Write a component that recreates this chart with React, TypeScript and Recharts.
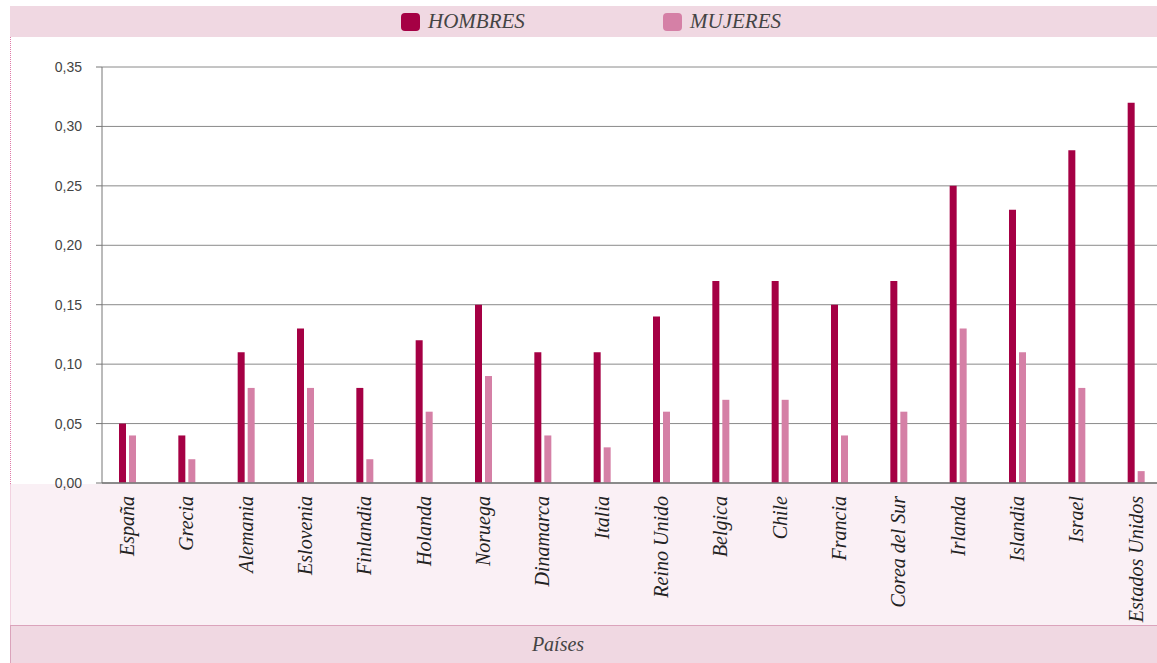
import React from 'react';
import { BarChart, Bar, XAxis, YAxis, CartesianGrid, Legend } from 'recharts';

// values
const paises = [
  'España', 'Grecia', 'Alemania', 'Eslovenia', 'Finlandia', 'Holanda', 'Noruega', 'Dinamarca', 'Italia',
  'Reino Unido', 'Belgica', 'Chile', 'Francia', 'Corea del Sur', 'Irlanda', 'Islandia', 'Israel', 'Estados Unidos',
];
const hombres = [0.05, 0.04, 0.11, 0.13, 0.08, 0.12, 0.15, 0.11, 0.11, 0.14, 0.17, 0.17, 0.15, 0.17, 0.25, 0.23, 0.28, 0.32];
const mujeres = [0.04, 0.02, 0.08, 0.08, 0.02, 0.06, 0.09, 0.04, 0.03, 0.06, 0.07, 0.07, 0.04, 0.06, 0.13, 0.11, 0.08, 0.01];
const yTicks = [0, 0.05, 0.1, 0.15, 0.2, 0.25, 0.3, 0.35];

const DARK = '#a50044';
const PINK = '#d580a6';
const BAND = '#f0d8e2';
const SERIF = '"Liberation Serif", "Times New Roman", serif';
const SANS = '"Liberation Sans", Arial, sans-serif';

const chartData = paises.map((pais, i) => ({
  pais,
  hombres: hombres[i],
  mujeres: mujeres[i],
}));

const CountryTick = (props: any) => {
  const { x, y, payload } = props;
  return (
    <g transform={`translate(${x},${y})`}>
      <text
        transform="rotate(-90)"
        x={-5}
        y={0}
        dy="0.32em"
        textAnchor="end"
        fontFamily={SERIF}
        fontStyle="italic"
        fontSize={20}
        fill="#222"
      >
        {payload.value}
      </text>
    </g>
  );
};

const LegendBand = () => (
  <div style={{ position: 'relative', width: 1147, height: 31, background: BAND }}>
    {[
      { name: 'HOMBRES', color: DARK, left: 391 },
      { name: 'MUJERES', color: PINK, left: 653 },
    ].map((item) => (
      <div key={item.name} style={{ position: 'absolute', left: item.left, top: 0, height: 31, display: 'flex', alignItems: 'center' }}>
        <span style={{ width: 19, height: 18, borderRadius: 4, background: item.color, display: 'inline-block', marginRight: 8 }} />
        <span style={{ fontFamily: SERIF, fontStyle: 'italic', fontSize: 21, color: '#444' }}>{item.name}</span>
      </div>
    ))}
  </div>
);

export default function App() {
  return (
    <div style={{ position: 'fixed', top: 0, left: 0, width: 1157, height: 663, overflow: 'hidden', background: '#fff' }}>
      {/* dotted left edge of the plot panel */}
      <div style={{ position: 'absolute', left: 10, top: 37, height: 447, borderLeft: '1px dotted #e07aa8' }} />
      {/* light panel under the axis */}
      <div style={{ position: 'absolute', left: 10, top: 484, width: 1147, height: 141, background: '#faf0f5', borderLeft: '1px solid #f2d2e0', boxSizing: 'border-box' }} />
      {/* axis title band */}
      <div
        style={{
          position: 'absolute', left: 10, top: 625, width: 1147, height: 38, background: BAND,
          borderTop: '1px solid #dba3bb', borderLeft: '1px solid #dba3bb', boxSizing: 'border-box',
        }}
      />
      <div style={{ position: 'absolute', left: 458, width: 200, top: 633, textAlign: 'center', fontFamily: SERIF, fontStyle: 'italic', fontSize: 20, color: '#444' }}>
        Países
      </div>

      <div style={{ position: 'absolute', top: 0, left: 0, zIndex: 1 }}>
        <BarChart
          width={1166}
          height={663}
          data={chartData}
          margin={{ top: 67, right: 0, bottom: 40, left: 0 }}
          barSize={7}
          barGap={3}
        >
          <CartesianGrid vertical={false} stroke="#8a8a8a" strokeWidth={1} />
          <XAxis
            dataKey="pais"
            interval={0}
            height={140}
            tickLine={false}
            axisLine={{ stroke: '#777', strokeWidth: 1.5 }}
            tick={<CountryTick />}
            padding={{ left: -4, right: 0 }}
          />
          <YAxis
            width={102}
            domain={[0, 0.35]}
            ticks={yTicks}
            tickSize={6}
            tickMargin={14}
            tickLine={{ stroke: '#777' }}
            axisLine={{ stroke: '#777' }}
            tick={{ fontFamily: SANS, fontSize: 14, fill: '#444' }}
            tickFormatter={(v: number) => v.toFixed(2).replace('.', ',')}
          />
          <Legend
            layout="horizontal"
            verticalAlign="middle"
            align="center"
            wrapperStyle={{ top: 6, left: 10, width: 1147, height: 31 }}
            content={<LegendBand />}
          />
          <Bar dataKey="hombres" name="HOMBRES" fill={DARK} isAnimationActive={false} />
          <Bar dataKey="mujeres" name="MUJERES" fill={PINK} isAnimationActive={false} />
        </BarChart>
      </div>
    </div>
  );
}
